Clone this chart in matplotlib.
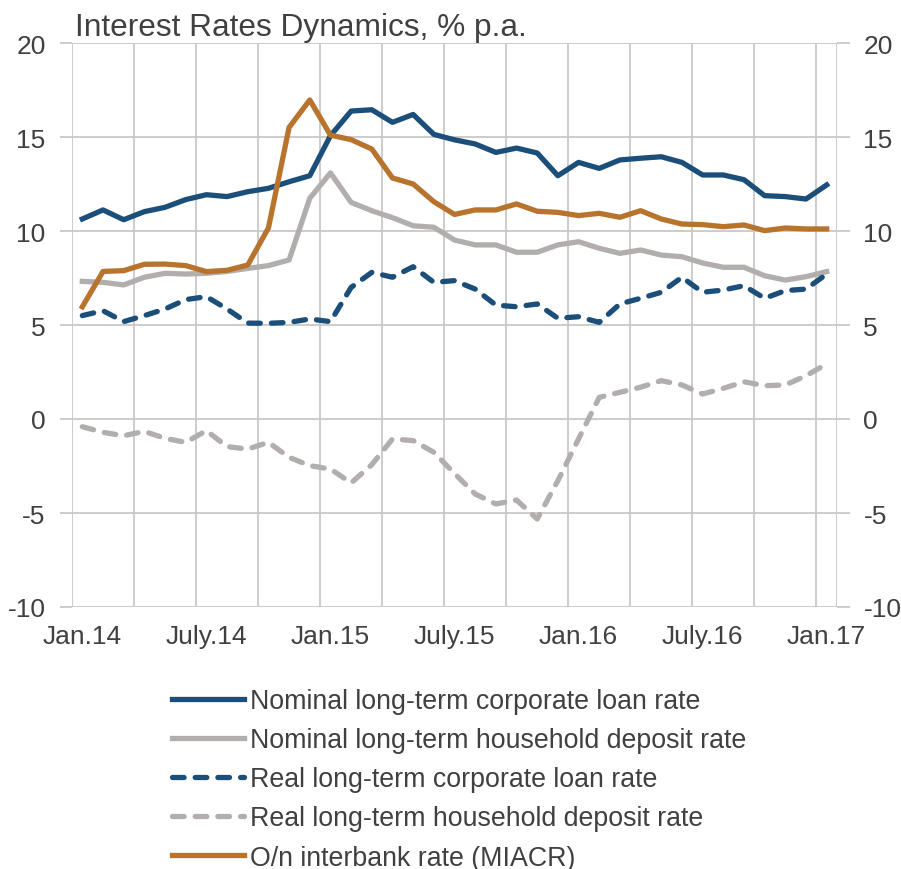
import numpy as np
import matplotlib
matplotlib.use("Agg")
import matplotlib.pyplot as plt

plt.rcParams['font.family'] = ['Liberation Sans', 'DejaVu Sans']
plt.rcParams['axes.unicode_minus'] = False

# monthly observations, Jan.14 .. Jan.17
tick_labels = ["Jan.14", "July.14", "Jan.15", "July.15", "Jan.16", "July.16", "Jan.17"]

nominal_loan = [10.64, 11.12, 10.6, 11.03, 11.26, 11.67, 11.93, 11.83, 12.09, 12.27, 12.62, 12.94,
                15.07, 16.38, 16.45, 15.78, 16.2, 15.14, 14.85, 14.63, 14.18, 14.41, 14.15, 12.94,
                13.65, 13.33, 13.78, 13.87, 13.95, 13.65, 12.98, 12.98, 12.73, 11.88, 11.83, 11.7, 12.45]
nominal_deposit = [7.32, 7.27, 7.13, 7.54, 7.75, 7.71, 7.75, 7.85, 8.01, 8.16, 8.46, 11.74,
                   13.09, 11.52, 11.08, 10.71, 10.28, 10.2, 9.52, 9.26, 9.26, 8.87, 8.87, 9.26,
                   9.43, 9.08, 8.81, 8.99, 8.72, 8.63, 8.3, 8.07, 8.07, 7.62, 7.39, 7.57, 7.84]
real_loan = [5.5, 5.76, 5.18, 5.5, 5.85, 6.35, 6.51, 5.85, 5.1, 5.09, 5.14, 5.32,
             5.18, 7.0, 7.8, 7.54, 8.1, 7.27, 7.36, 6.91, 6.06, 5.97, 6.12, 5.36,
             5.44, 5.14, 6.12, 6.42, 6.74, 7.54, 6.74, 6.86, 7.09, 6.42, 6.83, 6.91, 7.71]
real_deposit = [-0.41, -0.71, -0.89, -0.66, -1.03, -1.24, -0.62, -1.47, -1.6, -1.24, -2.04, -2.48,
                -2.66, -3.4, -2.43, -1.06, -1.15, -1.77, -2.9, -3.99, -4.52, -4.31, -5.32, -3.28,
                -1.06, 1.15, 1.42, 1.69, 2.04, 1.81, 1.33, 1.63, 1.98, 1.77, 1.81, 2.3, 2.93]
miacr = [5.97, 7.85, 7.89, 8.23, 8.24, 8.16, 7.84, 7.91, 8.19, 10.16, 15.51, 16.97,
         15.1, 14.86, 14.36, 12.82, 12.5, 11.56, 10.88, 11.12, 11.12, 11.44, 11.05, 10.99,
         10.82, 10.94, 10.73, 11.08, 10.64, 10.37, 10.34, 10.23, 10.32, 10.02, 10.16, 10.11, 10.11]

blue = '#1B4F7A'
grey = '#B1AEAD'
orange = '#B8732D'
grid_c = '#C8C8C8'
text_c = '#404040'

x = np.arange(len(nominal_loan))

fig = plt.figure(figsize=(9.01, 8.70), dpi=100)
ax = fig.add_axes([72 / 901, 1 - 608 / 870, (837 - 72) / 901, (608 - 44) / 870])

lw = 3.8
dash = (2.2, 2.1)
ax.plot(x, nominal_loan, color=blue, lw=lw, label='Nominal long-term corporate loan rate')
ax.plot(x, nominal_deposit, color=grey, lw=lw, label='Nominal long-term household deposit rate')
ax.plot(x, real_loan, color=blue, lw=lw, dashes=dash, dash_capstyle='round',
        label='Real long-term corporate loan rate')
ax.plot(x, real_deposit, color=grey, lw=lw, dashes=dash, dash_capstyle='round',
        label='Real long-term household deposit rate')
ax.plot(x, miacr, color=orange, lw=lw, label='O/n interbank rate (MIACR)')

ax.set_xlim(-0.5, len(x) - 0.5)
ax.set_ylim(-10, 20)
ax.set_yticks(np.arange(-10, 21, 5))
ax.set_xticks(np.arange(0, len(x), 6))
ax.set_xticklabels(tick_labels)
ax.set_xticks(list(np.arange(-0.5, len(x), 3)) + [len(x) - 0.5], minor=True)

for s in ax.spines.values():
    s.set_visible(False)

ax.grid(axis='y', which='major', color=grid_c, lw=1.3)
ax.grid(axis='x', which='minor', color=grid_c, lw=1.3)
ax.set_axisbelow(True)

ax.tick_params(axis='y', which='major', left=True, right=True, labelleft=True, labelright=True,
               length=9, width=1.3, color=grid_c, labelsize=19, labelcolor=text_c, pad=10)
ax.tick_params(axis='x', which='major', length=0, labelsize=19, labelcolor=text_c, pad=12)
ax.tick_params(axis='x', which='minor', length=0)

fig.text(75 / 901, 1 - 36 / 870, 'Interest Rates Dynamics, % p.a.', fontsize=22.8,
         color=text_c, ha='left', va='baseline')

leg = ax.legend(loc='upper left', bbox_to_anchor=(172 / 901, 1 - 689 / 870),
                bbox_transform=fig.transFigure, frameon=False, fontsize=19.3,
                handlelength=2.69, handletextpad=0.22, labelspacing=0.49, borderpad=0,
                borderaxespad=0)
for t in leg.get_texts():
    t.set_color(text_c)

fig.savefig('out.png', dpi=100)
